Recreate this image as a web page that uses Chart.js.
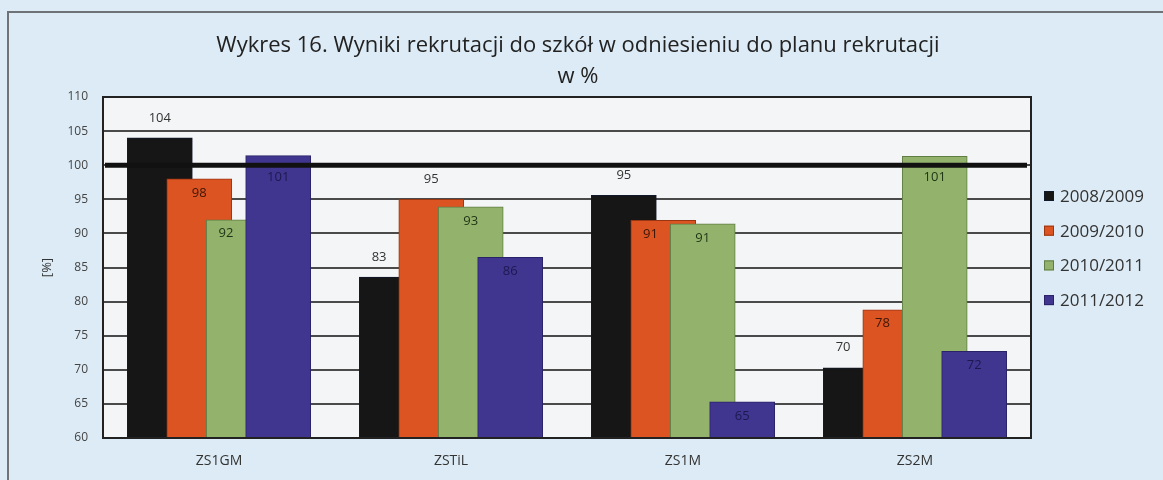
<!DOCTYPE html>
<html>
<head>
<meta charset="utf-8">
<script src="https://cdn.jsdelivr.net/npm/chart.js@4.4.1/dist/chart.umd.min.js"></script>
<style>
  html, body { margin: 0; padding: 0; background: #dcebf5; overflow: hidden; }
  #wrap { position: relative; width: 1163px; height: 480px; }
  #frame { position: absolute; left: 7px; top: 11px; width: 1170px; height: 480px;
           border-top: 2px solid #6f7378; border-left: 2px solid #6f7378; }
  canvas { position: absolute; left: 0; top: 0; }
</style>
</head>
<body>
<div id="wrap">
  <div id="frame"></div>
  <canvas id="rekrutacja" width="1163" height="480"></canvas>
</div>
<script>
// schools and school years
const schools = ['ZS1GM', 'ZSTiL', 'ZS1M', 'ZS2M'];
const years = ['2008/2009', '2009/2010', '2010/2011', '2011/2012'];

// results vs. recruitment plan, in %
const y2008 = [104.0, 83.6, 95.6, 70.3];
const y2009 = [98.0, 95.0, 91.9, 78.8];
const y2010 = [92.0, 93.9, 91.4, 101.3];
const y2011 = [101.4, 86.5, 65.3, 72.7];

const yTicks = [60, 65, 70, 75, 80, 85, 90, 95, 100, 105, 110];
const planLine = 100;
const titleLines = ['Wykres 16. Wyniki rekrutacji do szkół w odniesieniu do planu rekrutacji', 'w %'];

const font = "'Open Sans', 'Liberation Sans', sans-serif";
const colors = ['#161616', '#dc5422', '#93b36c', '#41368f'];
const borders = ['#10182a', '#9a3512', '#5f7d45', '#2a2268'];
const labelColors = ['#333333', '#3b1608', '#1f3414', '#1c1950'];
// Excel style overlap: each series shifted inside its category
const shift = [-0.255, -0.085, 0.085, 0.255];
// labels that sit above the bar (dataset -> indexes)
const labelAbove = { 0: [0, 1, 2, 3], 1: [1] };

const series = [y2008, y2009, y2010, y2011];

const plotBg = {
  id: 'plotBg',
  beforeDraw(chart) {
    const a = chart.chartArea, ctx = chart.ctx;
    ctx.save();
    ctx.fillStyle = '#f4f5f7';
    ctx.fillRect(a.left, a.top, a.right - a.left, a.bottom - a.top);
    // title, centred on the whole picture
    ctx.fillStyle = '#222';
    ctx.font = '22px ' + font;
    ctx.textAlign = 'center';
    ctx.textBaseline = 'middle';
    titleLines.forEach((t, i) => ctx.fillText(t, 578, 46 + i * 31));
    ctx.restore();
  },
  afterDatasetsDraw(chart) {
    const a = chart.chartArea, ctx = chart.ctx;
    ctx.save();
    // plot border
    ctx.strokeStyle = '#222';
    ctx.lineWidth = 2;
    ctx.strokeRect(a.left, a.top, a.right - a.left, a.bottom - a.top);
    // 100% plan line
    const py = chart.scales.y.getPixelForValue(planLine);
    ctx.strokeStyle = '#111';
    ctx.lineWidth = 5;
    ctx.beginPath();
    ctx.moveTo(a.left + 2, py);
    ctx.lineTo(a.right - 4, py);
    ctx.stroke();

    // value labels
    ctx.font = '13px ' + font;
    ctx.textAlign = 'center';
    ctx.textBaseline = 'middle';
    const n = chart.data.datasets.length;
    chart.data.datasets.forEach((ds, di) => {
      const meta = chart.getDatasetMeta(di);
      meta.data.forEach((bar, i) => {
        const p = bar.getProps(['x', 'y', 'width'], true);
        const above = labelAbove[di] && labelAbove[di].includes(i);
        // inside labels kept clear of the plan line
        const ly = above ? p.y - 20 : Math.max(p.y + 14, py + 12);
        let left = p.x - p.width / 2, right = p.x + p.width / 2;
        if (di + 1 < n) {
          const nb = chart.getDatasetMeta(di + 1).data[i].getProps(['x', 'y', 'width'], true);
          if (nb.y < ly + 6) right = Math.min(right, nb.x - nb.width / 2);
        }
        ctx.fillStyle = above ? '#333' : labelColors[di];
        ctx.fillText(String(Math.floor(ds.data[i].y)), (left + right) / 2, ly);
      });
    });

    // legend
    ctx.font = '17px ' + font;
    ctx.textAlign = 'left';
    chart.data.datasets.forEach((ds, di) => {
      const ly = a.top + 99 + di * 34.7;
      const lx = a.right + 13;
      ctx.fillStyle = ds.backgroundColor;
      ctx.fillRect(lx, ly - 5, 10, 10);
      ctx.strokeStyle = ds.borderColor;
      ctx.lineWidth = 1;
      ctx.strokeRect(lx + 0.5, ly - 4.5, 9, 9);
      ctx.fillStyle = '#333';
      ctx.fillText(ds.label, lx + 16, ly + 1);
    });
    ctx.restore();
  }
};

new Chart('rekrutacja', {
  type: 'bar',
  data: {
    datasets: series.map((vals, s) => ({
      label: years[s],
      data: vals.map((v, i) => ({ x: i + shift[s], y: v })),
      backgroundColor: colors[s],
      borderColor: borders[s],
      borderWidth: 1,
      barThickness: 65,
      grouped: false,
      order: 4 - s
    }))
  },
  options: {
    responsive: false,
    animation: false,
    layout: { padding: { left: 0, right: 132, top: 97, bottom: 0 } },
    plugins: {
      legend: { display: false },
      tooltip: { enabled: false },
      title: { display: false }
    },
    scales: {
      x: {
        type: 'linear',
        offset: false,
        min: -0.5,
        max: 3.5,
        grid: { display: false },
        border: { display: false },
        afterBuildTicks: axis => { axis.ticks = schools.map((s, i) => ({ value: i })); },
        afterFit: axis => { axis.height = 42; },
        ticks: {
          padding: 7,
          color: '#333',
          font: { family: font, size: 14 },
          callback: v => schools[v]
        }
      },
      y: {
        min: 60,
        max: 110,
        afterBuildTicks: axis => { axis.ticks = yTicks.map(v => ({ value: v })); },
        afterFit: axis => { axis.width = 103; },
        grid: { color: '#4a4a4a', lineWidth: 2, drawTicks: false },
        border: { display: false },
        ticks: { padding: 15, color: '#444', font: { family: font, size: 12 } },
        title: {
          display: true,
          text: '[%]',
          color: '#333',
          font: { family: font, size: 13 },
          padding: { top: 39, bottom: 0 }
        }
      }
    }
  },
  plugins: [plotBg]
});
</script>
</body>
</html>
